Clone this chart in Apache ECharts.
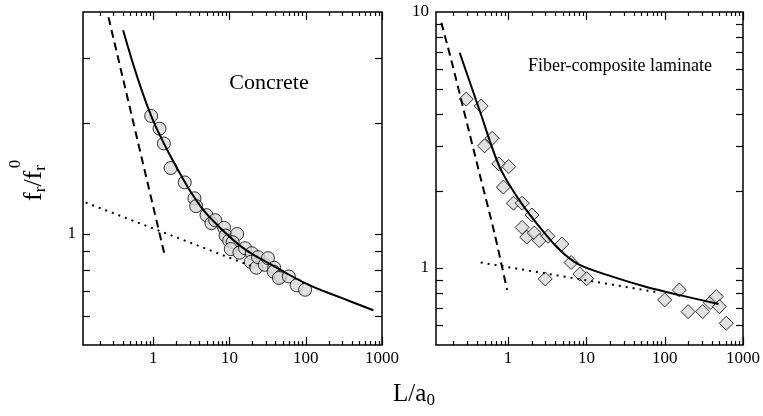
<!DOCTYPE html>
<html>
<head>
<meta charset="utf-8">
<script src="https://cdn.jsdelivr.net/npm/echarts@6/dist/echarts.min.js"></script>
<style>
html,body{margin:0;padding:0;background:#fff;}
#chart{width:763px;height:416px;}
</style>
</head>
<body>
<div id="chart"></div>
<script>
// ---- Data ----
const concretePoints = [
  [0.94,2.09],[1.21,1.93],[1.38,1.76],[1.69,1.51],[2.59,1.38],[3.47,1.25],[3.66,1.19],
  [5.0,1.125],[5.8,1.07],[6.5,1.09],[8.5,1.04],[8.9,0.99],[9.9,0.96],[12.6,1.0],
  [11,0.95],[10.4,0.91],[13.5,0.89],[16,0.915],[19.6,0.887],[19,0.84],[22.5,0.81],
  [23.7,0.865],[29,0.825],[32,0.86],[38.6,0.81],[38,0.79],[47,0.767],[44.5,0.76],
  [60,0.767],[76,0.726],[98,0.706]
];
const concreteFit = [
  [0.403,3.57],[0.623,2.65],[0.94,2.09],[1.38,1.76],[2.56,1.39],[3.54,1.248],
  [5.45,1.113],[14.3,0.924],[39,0.816],[108,0.729],[295,0.671],[771,0.621]
];
const concreteSmallScale = [[0.259,3.87],[1.41,0.878]];
const concreteLargeScale = [[0.13,1.217],[22,0.81]];

const fiberPoints = [
  [0.292,4.57],[0.453,4.29],[0.50,3.0],[0.625,3.21],[0.76,2.55],[1.02,2.49],[0.87,2.07],
  [1.17,1.79],[1.51,1.79],[2.02,1.61],[1.51,1.44],[1.73,1.32],[2.16,1.37],[2.50,1.28],
  [3.23,1.33],[4.86,1.24],[6.38,1.05],[2.98,0.906],[8.24,0.947],[10.1,0.908],
  [100,0.75],[154,0.82],[199,0.675],[305,0.675],[382,0.732],[456,0.773],[500,0.706],[611,0.608]
];
const fiberFit = [
  [0.241,6.93],[0.431,4.14],[0.775,2.49],[1.39,1.84],[2.50,1.45],[4.50,1.18],[8.07,1.03],
  [21.4,0.925],[57,0.845],[151,0.785],[488,0.723]
];
const fiberSmallScale = [[0.1405,9.08],[0.188,6.49],[0.252,4.53],[0.431,2.34],[0.67,1.366],[0.971,0.82]];
const fiberLargeScale = [[0.447,1.05],[88,0.80]];

// ---- Axis ticks ----
const xMajorTicks = [1,10,100,1000];
const xMinorTicks = [0.2,0.3,0.4,0.5,0.6,0.7,0.8,0.9,2,3,4,5,6,7,8,9,20,30,40,50,60,70,80,90,200,300,400,500,600,700,800,900];
const yTicksConcrete = [0.6,0.7,0.8,0.9,1,2,3];
const yTicksFiber = [0.6,0.7,0.8,0.9,1,2,3,4,5,6,7,8,9];

const FONT = '"Liberation Serif", "Times New Roman", serif';
const chart = echarts.init(document.getElementById('chart'), null, {renderer:'canvas'});

function decadeLabel(v){
  const l = Math.log10(v);
  if (Math.abs(l - Math.round(l)) < 1e-6 && Math.round(l) >= 0) return String(Math.round(Math.pow(10, Math.round(l))));
  return '';
}
function tickData(yTicks){
  const d = [];
  xMajorTicks.forEach(v => d.push([v, 1, 0, 8]));
  xMinorTicks.forEach(v => d.push([v, 1, 0, 4]));
  yTicks.forEach(v => d.push([1, v, 1, 7]));
  return d;
}
function renderTick(params, api){
  const cs = params.coordSys;
  const kind = api.value(2), len = api.value(3);
  const st = {stroke:'#000', lineWidth:1.2};
  if (kind === 0){
    const px = Math.round(api.coord([api.value(0), 1])[0]) + 0.5;
    const b = cs.y + cs.height, t = cs.y;
    return {type:'group', children:[
      {type:'line', shape:{x1:px,y1:b,x2:px,y2:b-len}, style:st},
      {type:'line', shape:{x1:px,y1:t,x2:px,y2:t+len}, style:st}
    ]};
  } else {
    const py = Math.round(api.coord([1, api.value(1)])[1]) + 0.5;
    const l = cs.x, r = cs.x + cs.width;
    return {type:'group', children:[
      {type:'line', shape:{x1:l,y1:py,x2:l+len,y2:py}, style:st},
      {type:'line', shape:{x1:r,y1:py,x2:r-len,y2:py}, style:st}
    ]};
  }
}
function xAx(gi){
  return {type:'log', logBase:10, gridIndex:gi, min:0.12, max:1000,
    axisLine:{show:false}, axisTick:{show:false}, splitLine:{show:false}, minorTick:{show:false},
    axisLabel:{formatter:decadeLabel, fontFamily:FONT, fontSize:17, color:'#000', margin:5}};
}
function yAx(gi, max){
  return {type:'log', logBase:10, gridIndex:gi, min:0.5, max:max,
    axisLine:{show:false}, axisTick:{show:false}, splitLine:{show:false}, minorTick:{show:false},
    axisLabel:{formatter:decadeLabel, fontFamily:FONT, fontSize:17, color:'#000', margin:7}};
}
const markerStyle = {color:'#dadada', borderColor:'#000', borderWidth:1};
const solid = {color:'#000', width:2, type:'solid'};
const dashed = {color:'#000', width:2, type:[8,5]};
const dotted = {color:'#000', width:2, type:[2,5]};

const option = {
  animation:false,
  backgroundColor:'#fff',
  grid:[
    {left:83, top:12, width:299, height:333, show:true, borderColor:'#000', borderWidth:1.5, backgroundColor:'transparent'},
    {left:436, top:12, width:309, height:333, show:true, borderColor:'#000', borderWidth:1.5, backgroundColor:'transparent'}
  ],
  xAxis:[xAx(0), xAx(1)],
  yAxis:[yAx(0,4), yAx(1,10)],
  series:[
    {type:'custom', xAxisIndex:0, yAxisIndex:0, renderItem:renderTick, data:tickData(yTicksConcrete), silent:true, clip:false, z:5},
    {type:'custom', xAxisIndex:1, yAxisIndex:1, renderItem:renderTick, data:tickData(yTicksFiber), silent:true, clip:false, z:5},
    {type:'line', xAxisIndex:0, yAxisIndex:0, data:concreteLargeScale, showSymbol:false, symbol:'none', lineStyle:dotted},
    {type:'scatter', xAxisIndex:0, yAxisIndex:0, data:concretePoints, symbol:'circle', symbolSize:13, itemStyle:markerStyle},
    {type:'line', xAxisIndex:0, yAxisIndex:0, data:concreteSmallScale, symbol:'none', lineStyle:dashed},
    {type:'line', xAxisIndex:0, yAxisIndex:0, data:concreteFit, symbol:'none', smooth:0.4, lineStyle:solid},
    {type:'line', xAxisIndex:1, yAxisIndex:1, data:fiberLargeScale, symbol:'none', lineStyle:dotted},
    {type:'scatter', xAxisIndex:1, yAxisIndex:1, data:fiberPoints, symbol:'diamond', symbolSize:14, itemStyle:markerStyle},
    {type:'line', xAxisIndex:1, yAxisIndex:1, data:fiberSmallScale, symbol:'none', smooth:0.3, lineStyle:dashed},
    {type:'line', xAxisIndex:1, yAxisIndex:1, data:fiberFit, symbol:'none', smooth:0.3, lineStyle:solid}
  ],
  graphic:[
    {type:'text', x:269, y:83, style:{text:'Concrete', fontFamily:FONT, fontSize:22, fill:'#000', align:'center', verticalAlign:'middle', textAlign:'center', textVerticalAlign:'middle'}},
    {type:'text', x:620, y:66, style:{text:'Fiber-composite laminate', fontFamily:FONT, fontSize:18, fill:'#000', align:'center', verticalAlign:'middle', textAlign:'center', textVerticalAlign:'middle'}},
    {type:'text', x:34, y:183, rotation:Math.PI/2, style:{
      text:'{b|f}{s|r}{b|/f}{s|r}', align:'center', verticalAlign:'middle', textAlign:'center', textVerticalAlign:'middle',
      rich:{
        b:{fontFamily:FONT, fontSize:26, lineHeight:30, fill:'#000', color:'#000'},
        s:{fontFamily:FONT, fontSize:17, lineHeight:12, verticalAlign:'bottom', fill:'#000', color:'#000'}
      }}},
    {type:'text', x:16, y:164, rotation:Math.PI/2, style:{text:'0', fontFamily:FONT, fontSize:17, fill:'#000', align:'center', verticalAlign:'middle', textAlign:'center', textVerticalAlign:'middle'}},
    {type:'text', x:414, y:394, style:{
      text:'{b|L/a}{s|0}', align:'center', verticalAlign:'middle', textAlign:'center', textVerticalAlign:'middle',
      rich:{
        b:{fontFamily:FONT, fontSize:25, lineHeight:30, fill:'#000', color:'#000'},
        s:{fontFamily:FONT, fontSize:17, lineHeight:12, verticalAlign:'bottom', fill:'#000', color:'#000'}
      }}}
  ]
};
chart.setOption(option);
</script>
</body>
</html>
